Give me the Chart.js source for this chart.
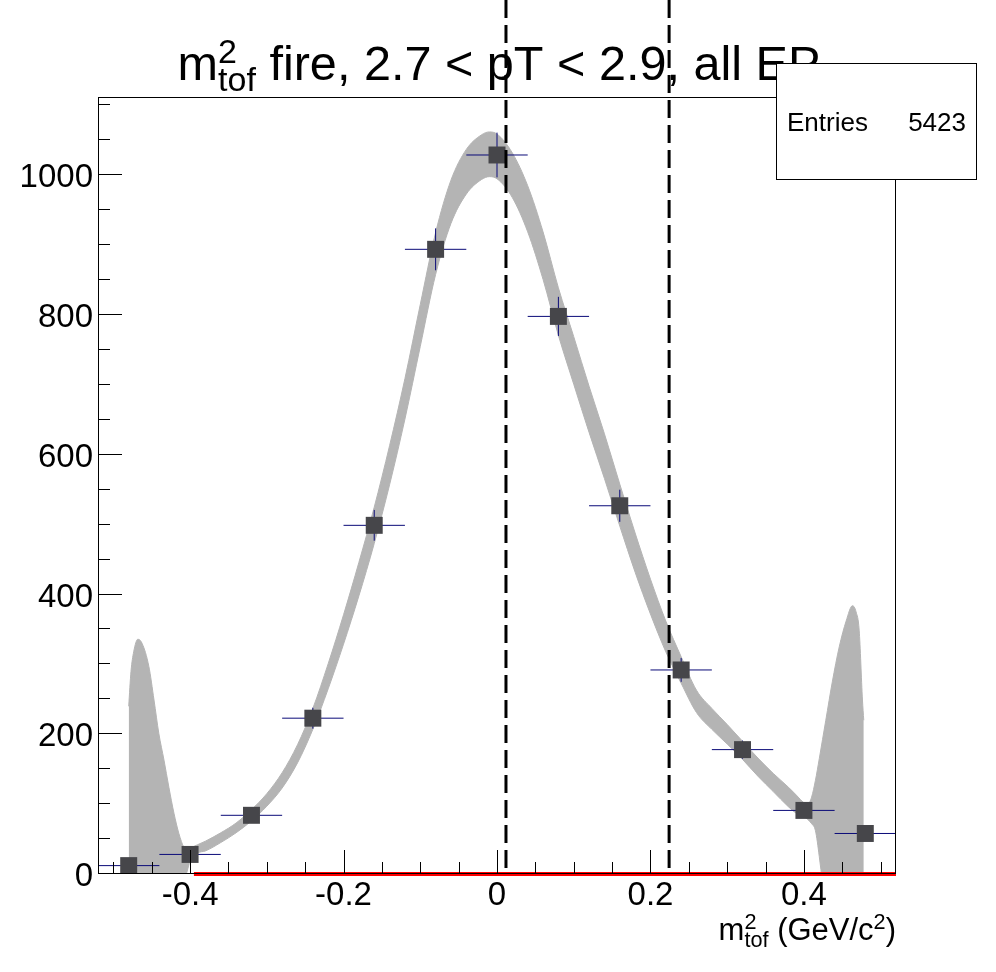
<!DOCTYPE html>
<html><head><meta charset="utf-8">
<script src="https://cdn.jsdelivr.net/npm/chart.js@4.4.1/dist/chart.umd.min.js"></script>
<style>html,body{margin:0;padding:0;background:#fff;}canvas{display:block;}</style>
</head><body>
<canvas id="c" width="996" height="972"></canvas>
<script>
// ---- data ----
const binCenters = [-0.48,-0.40,-0.32,-0.24,-0.16,-0.08,0.00,0.08,0.16,0.24,0.32,0.40,0.48];
const binWidth = 0.08;
const counts = [12,28,84,223,499,894,1029,798,527,292,178,91,58];
const countErrors = [3.5,5.3,9.2,15,22,30,32,28,23,17,13,9.5,7.6];

const bandX = [-0.48,-0.477,-0.4735,-0.468,-0.4625,-0.4537,-0.447,-0.4407,-0.434,-0.4276,-0.421,-0.4146,-0.408,-0.404,-0.40,-0.39,-0.38,-0.36,-0.34,-0.32,-0.30,-0.28,-0.26,-0.24,-0.22,-0.20,-0.18,-0.16,-0.14,-0.12,-0.10,-0.08,-0.06,-0.04,-0.02,-0.01,0.00,0.02,0.04,0.06,0.08,0.10,0.12,0.14,0.16,0.18,0.20,0.22,0.24,0.26,0.28,0.30,0.32,0.34,0.36,0.38,0.39,0.40,0.405,0.41,0.415,0.42,0.4285,0.437,0.446,0.455,0.4633,0.468,0.472,0.4763,0.478];
const bandUpper = [240,290,318,336,330,297,249,201,163,124,87,58,38,35,37,42,47,59,73,92,115,145,185,237,301,371,446,525,613,709,815,918,993,1037,1058,1062,1059,1032,985,919,839,769,698,630,558,488,422,362,311,263,237,214,190,166,144,124,113,102,100,110,134,165,220,275,325,362,384,375,349,249,220];
const bandLower = [-3000,-2800,-2600,-2300,-2000,-1600,-1300,-1000,-750,-500,-300,-120,-15,3,18,30,33,45,59,76,97,123,159,207,265,329,398,473,557,651,755,858,931,973,994,998,995,968,919,851,771,701,632,566,498,432,372,318,273,231,207,186,164,140,118,96,87,82,78,72,62,25,-60,-200,-450,-800,-1200,-1500,-1800,-2200,-2400];

const fitLineX = [-0.395, 0.52];
const fitLineY = [0, 0];
const cutLines = [0.0117, 0.2243];

const xTickValues = [-0.5,-0.45,-0.4,-0.35,-0.3,-0.25,-0.2,-0.15,-0.1,-0.05,0,0.05,0.1,0.15,0.2,0.25,0.3,0.35,0.4,0.45,0.5];
const xMajorTicks = [-0.4,-0.2,0,0.2,0.4];
const xTickLabels = ['-0.4','-0.2','0','0.2','0.4'];
const yTickValues = [0,50,100,150,200,250,300,350,400,450,500,550,600,650,700,750,800,850,900,950,1000,1050,1100];
const yMajorTicks = [0,200,400,600,800,1000];
const yTickLabels = ['0','200','400','600','800','1000'];
const statsEntries = 5423;

const FAM = '"Liberation Sans", Arial, Helvetica, sans-serif';

// ---- derived datasets ----
const bandUpperPts = bandX.map((x,i)=>({x, y: bandUpper[i]}));
const bandLowerPts = bandX.map((x,i)=>({x, y: bandLower[i]}));
const markerPts = binCenters.map((x,i)=>({x, y: counts[i]}));
const errPts = [];
binCenters.forEach((c,i)=>{
  errPts.push({x: c - binWidth/2, y: counts[i]}, {x: c + binWidth/2, y: counts[i]}, {x: c, y: null});
  errPts.push({x: c, y: counts[i] - countErrors[i]}, {x: c, y: counts[i] + countErrors[i]}, {x: c, y: null});
});
const fitPts = fitLineX.map((x,i)=>({x, y: fitLineY[i]}));

function isIn(arr, v){ return arr.some(a => Math.abs(a - v) < 1e-6); }

function drawRich(ctx, parts, x, base, size, align){
  const small = size * 0.7;
  const widths = parts.map(p=>{
    if (p.t !== undefined){ ctx.font = size + 'px ' + FAM; return ctx.measureText(p.t).width; }
    ctx.font = small + 'px ' + FAM;
    return Math.max(p.sup ? ctx.measureText(p.sup).width : 0, p.sub ? ctx.measureText(p.sub).width : 0);
  });
  const total = widths.reduce((a,b)=>a+b,0);
  let cx = align === 'center' ? x - total/2 : (align === 'right' ? x - total : x);
  ctx.textAlign = 'left'; ctx.textBaseline = 'alphabetic'; ctx.fillStyle = '#000';
  parts.forEach((p,i)=>{
    if (p.t !== undefined){ ctx.font = size + 'px ' + FAM; ctx.fillText(p.t, cx, base); }
    else {
      ctx.font = small + 'px ' + FAM;
      if (p.sup) ctx.fillText(p.sup, cx, base - size*0.36);
      if (p.sub) ctx.fillText(p.sub, cx, base + size*0.22);
    }
    cx += widths[i];
  });
}

const rootPlugin = {
  id: 'rootDecor',
  afterDatasetsDraw(chart){
    const {ctx, chartArea: a, scales: {x, y}} = chart;
    ctx.save();
    ctx.strokeStyle = '#000'; ctx.lineWidth = 1;
    ctx.strokeRect(a.left + 0.5, a.top + 0.5, a.right - a.left - 1, a.bottom - a.top - 1);
    ctx.beginPath();
    yTickValues.forEach(v=>{
      const py = Math.round(y.getPixelForValue(v)) - 0.5;
      const len = isIn(yMajorTicks, v) ? 24 : 12;
      ctx.moveTo(a.left, py); ctx.lineTo(a.left + len, py);
    });
    xTickValues.forEach(v=>{
      const px = Math.round(x.getPixelForValue(v)) + 0.5;
      const len = isIn(xMajorTicks, v) ? 24 : 12;
      ctx.moveTo(px, a.bottom); ctx.lineTo(px, a.bottom - len);
    });
    ctx.stroke();
    ctx.restore();
  },
  afterDraw(chart){
    const {ctx, chartArea: a, scales: {x}} = chart;
    ctx.save();
    // title
    drawRich(ctx, [{t:'m'},{sup:'2', sub:'tof'},{t:' fire, 2.7 < pT < 2.9, all EP'}], (a.left + a.right)/2 + 2, 80, 48.6, 'center');
    // axis title
    drawRich(ctx, [{t:'m'},{sup:'2', sub:'tof'},{t:' (GeV/c'},{sup:'2'},{t:')'}], a.right, 940, 31, 'right');
    // cut lines
    ctx.strokeStyle = '#000'; ctx.lineWidth = 3; ctx.setLineDash([18,7]);
    cutLines.forEach(v=>{
      const px = x.getPixelForValue(v);
      ctx.beginPath(); ctx.moveTo(px, 0); ctx.lineTo(px, a.bottom); ctx.stroke();
    });
    ctx.setLineDash([]);
    // stats box
    ctx.fillStyle = '#fff'; ctx.fillRect(776.5, 63.5, 200, 116);
    ctx.lineWidth = 1; ctx.strokeRect(776.5, 63.5, 200, 116);
    ctx.fillStyle = '#000'; ctx.font = '26px ' + FAM; ctx.textBaseline = 'alphabetic';
    ctx.textAlign = 'left'; ctx.fillText('Entries', 787, 131);
    ctx.textAlign = 'right'; ctx.fillText(String(statsEntries), 966, 131);
    ctx.restore();
  }
};

new Chart(document.getElementById('c'), {
  type: 'scatter',
  data: {
    datasets: [
      { label: 'band upper', data: bandUpperPts, showLine: true, pointRadius: 0, borderWidth: 1,
        borderColor: 'rgb(180,180,180)', backgroundColor: 'rgb(180,180,180)', fill: '+1', order: 10,
        cubicInterpolationMode: 'monotone' },
      { label: 'band lower', data: bandLowerPts, showLine: true, pointRadius: 0, borderWidth: 1,
        borderColor: 'rgb(180,180,180)', fill: false, order: 10, cubicInterpolationMode: 'monotone' },
      { label: 'errors', data: errPts, showLine: true, pointRadius: 0, borderWidth: 1,
        borderColor: 'rgb(10,10,120)', spanGaps: false, fill: false, order: 5 },
      { label: 'fit', data: fitPts, showLine: true, pointRadius: 0, borderWidth: 4,
        borderColor: 'rgb(255,0,0)', fill: false, order: 2, clip: false },
      { label: 'counts', data: markerPts, showLine: false, pointStyle: 'rect', pointRadius: 12,
        backgroundColor: 'rgb(70,70,74)', borderWidth: 0, order: 0 }
    ]
  },
  options: {
    responsive: false, animation: false, devicePixelRatio: 1, events: [],
    layout: { padding: { top: 97, right: 100, left: 0, bottom: 0 } },
    plugins: { legend: { display: false }, title: { display: false }, tooltip: { enabled: false } },
    scales: {
      x: {
        type: 'linear', min: -0.52, max: 0.52,
        grid: { display: false, drawTicks: false }, border: { display: false },
        afterBuildTicks: s => { s.ticks = xTickValues.map(v => ({value: v})); },
        afterFit: s => { s.height = 98; },
        ticks: { autoSkip: false, maxRotation: 0, padding: 2, color: '#000',
          font: { family: FAM, size: 33 },
          callback: v => { const i = xMajorTicks.findIndex(m => Math.abs(m - v) < 1e-6); return i >= 0 ? xTickLabels[i] : ''; } }
      },
      y: {
        type: 'linear', min: 0, max: 1112,
        grid: { display: false, drawTicks: false }, border: { display: false },
        afterBuildTicks: s => { s.ticks = yTickValues.map(v => ({value: v})); },
        afterFit: s => { s.width = 98; },
        ticks: { autoSkip: false, padding: 5, labelOffset: 3, color: '#000',
          font: { family: FAM, size: 33 },
          callback: v => { const i = yMajorTicks.findIndex(m => Math.abs(m - v) < 1e-6); return i >= 0 ? yTickLabels[i] : ''; } }
      }
    }
  },
  plugins: [rootPlugin]
});
</script>
</body></html>
